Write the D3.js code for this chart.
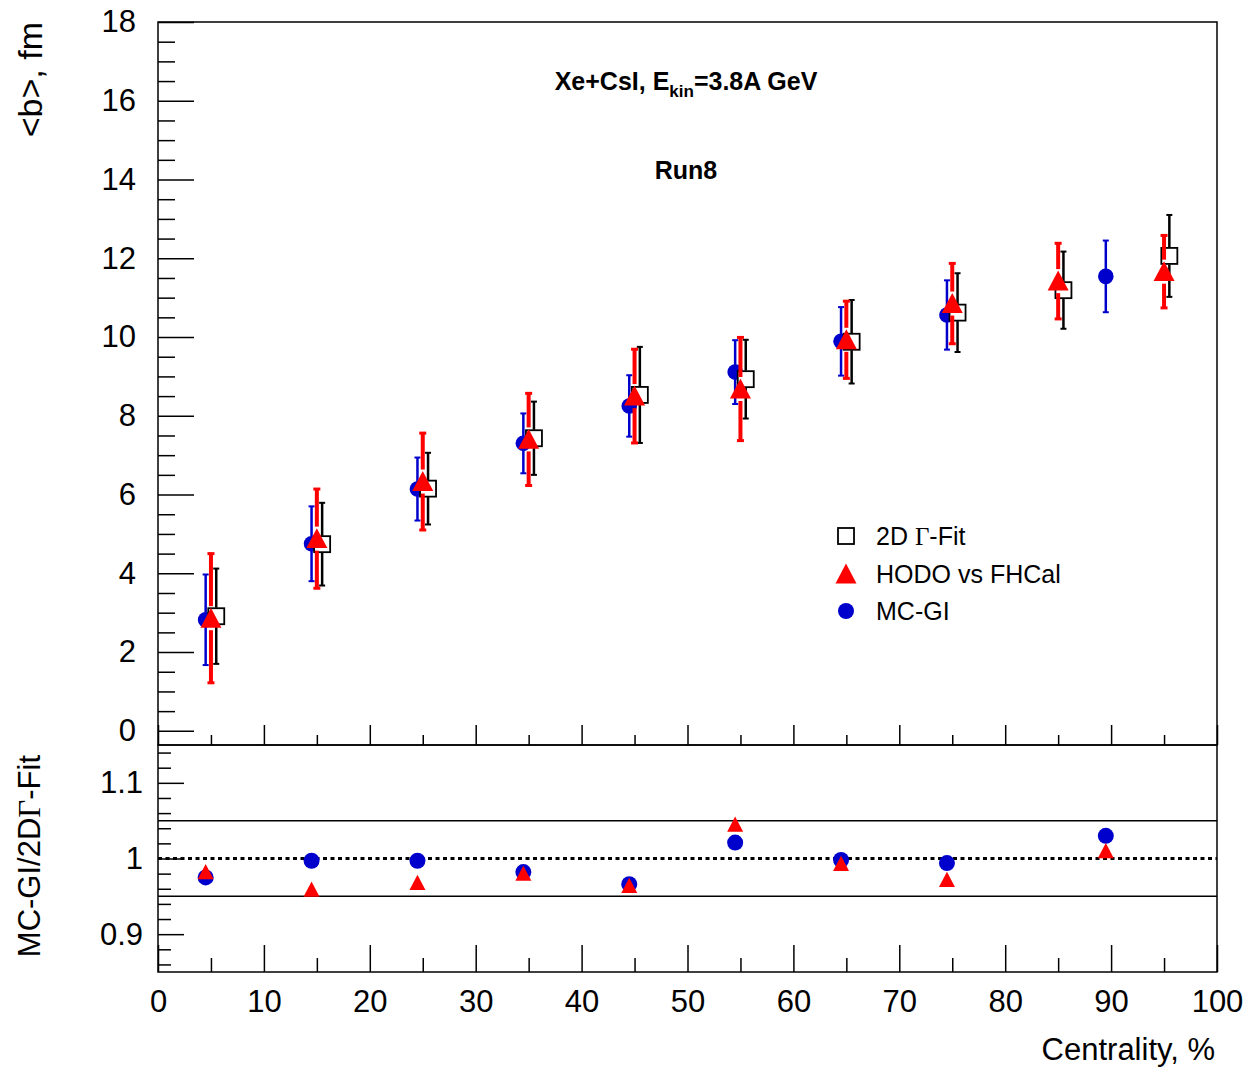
<!DOCTYPE html>
<html>
<head>
<meta charset="utf-8">
<script src="https://cdn.jsdelivr.net/npm/d3@7"></script>
<style>
  body { margin: 0; background: #fff; }
  svg text { font-family: "Liberation Sans", Arial, sans-serif; fill: #000; }
</style>
</head>
<body>
<svg id="chart" width="1247" height="1069"></svg>
<script>
'use strict';

/* ---------- data ---------- */
// MC-GI (blue circles)
const mcX   = [4.5, 14.5, 24.5, 34.5, 44.5, 54.5, 64.5, 74.5, 89.5];
const mcB   = [2.82, 4.75, 6.14, 7.30, 8.25, 9.11, 9.89, 10.56, 11.54];
const mcErr = [1.15, 0.95, 0.80, 0.76, 0.78, 0.81, 0.87, 0.88, 0.91];

// HODO vs FHCal (red triangles)
const hodoX   = [5, 15, 25, 35, 45, 55, 65, 75, 85, 95];
const hodoB   = [2.86, 4.88, 6.33, 7.40, 8.50, 8.68, 9.93, 10.85, 11.42, 11.66];
const hodoErr = [1.64, 1.26, 1.23, 1.17, 1.19, 1.31, 0.98, 1.02, 0.96, 0.92];

// 2D Gamma-fit (open squares)
const gamX   = [5.5, 15.5, 25.5, 35.5, 45.5, 55.5, 65.5, 75.5, 85.5, 95.5];
const gamB   = [2.91, 4.74, 6.15, 7.43, 8.53, 8.93, 9.88, 10.62, 11.19, 12.06];
const gamErr = [1.21, 1.05, 0.91, 0.93, 1.22, 1.00, 1.06, 1.00, 0.98, 1.04];

// ratio panel
const ratioX    = [4.5, 14.5, 24.5, 34.5, 44.5, 54.5, 64.5, 74.5, 89.5];
const ratioMC   = [0.975, 0.997, 0.997, 0.982, 0.966, 1.021, 0.998, 0.994, 1.030];
const ratioHODO = [0.982, 0.959, 0.968, 0.980, 0.964, 1.045, 0.993, 0.972, 1.010];

// ticks
const xTicks    = [0, 10, 20, 30, 40, 50, 60, 70, 80, 90, 100];
const yTopTicks = [0, 2, 4, 6, 8, 10, 12, 14, 16, 18];
const yBotTicks = [0.9, 1, 1.1];
const bandLines = [0.95, 1.05];

/* ---------- layout ---------- */
const X0 = 158, X1 = 1217, TOP = 22, MID = 745, BOT = 972;
const BLUE = '#0000cc', RED = '#ff0000';
const LBL = 31;

const svg = d3.select('#chart');
svg.append('rect').attr('width', 1247).attr('height', 1069).attr('fill', '#fff');

const x    = d3.scaleLinear().domain([0, 100]).range([X0, X1]);
const yTop = d3.scaleLinear().domain([-0.36, 18]).range([MID, TOP]);
const yBot = d3.scaleLinear().domain([0.85, 1.15]).range([BOT, MID]);

function styleAxis(g) {
  g.select('.domain').remove();
  g.selectAll('line').attr('stroke', '#000').attr('stroke-width', 1.5);
  g.selectAll('text').style('font-size', LBL + 'px').attr('fill', '#000');
}

/* ---------- axes ---------- */
// top panel y
svg.append('g').attr('transform', `translate(${X0},0)`)
  .call(d3.axisLeft(yTop).tickValues(yTopTicks).tickSize(-36).tickPadding(22).tickFormat(d3.format('d')))
  .call(styleAxis);
svg.append('g').attr('transform', `translate(${X0},0)`)
  .call(d3.axisLeft(yTop).tickValues(d3.range(0, 18.01, 0.5).filter(v => v % 2 !== 0)).tickSize(-17).tickFormat(''))
  .call(styleAxis);

// top panel x (no labels)
svg.append('g').attr('transform', `translate(0,${MID})`)
  .call(d3.axisBottom(x).tickValues(xTicks).tickSize(-20).tickFormat(''))
  .call(styleAxis);
svg.append('g').attr('transform', `translate(0,${MID})`)
  .call(d3.axisBottom(x).tickValues(d3.range(5, 100, 10)).tickSize(-10).tickFormat(''))
  .call(styleAxis);

// bottom panel y
svg.append('g').attr('transform', `translate(${X0},0)`)
  .call(d3.axisLeft(yBot).tickValues(yBotTicks).tickSize(-26).tickPadding(15).tickFormat(d => String(+d.toFixed(2))))
  .call(styleAxis);
svg.append('g').attr('transform', `translate(${X0},0)`)
  .call(d3.axisLeft(yBot).tickValues(d3.range(0.86, 1.141, 0.02).filter(v => Math.abs(v * 10 - Math.round(v * 10)) > 0.01)).tickSize(-13).tickFormat(''))
  .call(styleAxis);

// bottom panel x
svg.append('g').attr('transform', `translate(0,${BOT})`)
  .call(d3.axisBottom(x).tickValues(xTicks).tickSize(-27).tickPadding(18).tickFormat(d3.format('d')))
  .call(styleAxis);
svg.append('g').attr('transform', `translate(0,${BOT})`)
  .call(d3.axisBottom(x).tickValues(d3.range(5, 100, 10)).tickSize(-14).tickFormat(''))
  .call(styleAxis);

/* ---------- frames ---------- */
svg.append('rect').attr('x', X0).attr('y', TOP).attr('width', X1 - X0).attr('height', MID - TOP)
  .attr('fill', 'none').attr('stroke', '#000').attr('stroke-width', 1.5);
svg.append('rect').attr('x', X0).attr('y', MID).attr('width', X1 - X0).attr('height', BOT - MID)
  .attr('fill', 'none').attr('stroke', '#000').attr('stroke-width', 1.5);

// ratio reference lines
svg.selectAll('line.band').data(bandLines).enter().append('line')
  .attr('x1', X0).attr('x2', X1).attr('y1', d => yBot(d)).attr('y2', d => yBot(d))
  .attr('stroke', '#000').attr('stroke-width', 1.5);
svg.append('line')
  .attr('x1', X0).attr('x2', X1).attr('y1', yBot(1)).attr('y2', yBot(1))
  .attr('stroke', '#000').attr('stroke-width', 3).attr('stroke-dasharray', '4,3.5');

/* ---------- markers ---------- */
const triPath = (s) => `M0,${-s}L${s},${s * 0.9}L${-s},${s * 0.9}Z`;

function errBars(xs, ys, es, color, lw, cap, gap) {
  const g = svg.append('g');
  xs.forEach((xv, i) => {
    const px = x(xv), cy = yTop(ys[i]);
    const yt = yTop(ys[i] + es[i]), yb = yTop(ys[i] - es[i]);
    g.append('line').attr('x1', px).attr('x2', px).attr('y1', yt).attr('y2', cy - gap)
      .attr('stroke', color).attr('stroke-width', lw);
    g.append('line').attr('x1', px).attr('x2', px).attr('y1', cy + gap).attr('y2', yb)
      .attr('stroke', color).attr('stroke-width', lw);
    [yt, yb].forEach(yy => g.append('line')
      .attr('x1', px - cap / 2).attr('x2', px + cap / 2).attr('y1', yy).attr('y2', yy)
      .attr('stroke', color).attr('stroke-width', lw > 3 ? 3 : 2));
  });
}

// MC-GI
errBars(mcX, mcB, mcErr, BLUE, 2.5, 6, 7);
svg.append('g').selectAll('circle').data(mcX).enter().append('circle')
  .attr('cx', d => x(d)).attr('cy', (d, i) => yTop(mcB[i])).attr('r', 7.8).attr('fill', BLUE);

// 2D Gamma fit
errBars(gamX, gamB, gamErr, '#000', 2.5, 6, 8.5);
svg.append('g').selectAll('rect').data(gamX).enter().append('rect')
  .attr('x', d => x(d) - 8).attr('y', (d, i) => yTop(gamB[i]) - 8).attr('width', 16).attr('height', 16)
  .attr('fill', '#fff').attr('stroke', '#000').attr('stroke-width', 1.8);

// HODO
errBars(hodoX, hodoB, hodoErr, RED, 4, 7, 12);
svg.append('g').selectAll('path').data(hodoX).enter().append('path')
  .attr('transform', (d, i) => `translate(${x(d)},${yTop(hodoB[i])})`)
  .attr('d', triPath(10.5)).attr('fill', RED);

// ratio panel
svg.append('g').selectAll('circle').data(ratioX).enter().append('circle')
  .attr('cx', d => x(d)).attr('cy', (d, i) => yBot(ratioMC[i])).attr('r', 8).attr('fill', BLUE);
svg.append('g').selectAll('path').data(ratioX).enter().append('path')
  .attr('transform', (d, i) => `translate(${x(d)},${yBot(ratioHODO[i])})`)
  .attr('d', triPath(8)).attr('fill', RED);

/* ---------- legend ---------- */
const leg = svg.append('g');
const legX = 846, legTx = 876, legRows = [536, 574, 611];
leg.append('rect').attr('x', legX - 8).attr('y', legRows[0] - 8).attr('width', 16).attr('height', 16)
  .attr('fill', '#fff').attr('stroke', '#000').attr('stroke-width', 1.8);
leg.append('path').attr('transform', `translate(${legX},${legRows[1]})`).attr('d', triPath(10.5)).attr('fill', RED);
leg.append('circle').attr('cx', legX).attr('cy', legRows[2]).attr('r', 8).attr('fill', BLUE);

const LEGFS = '25px';
const t0 = leg.append('text').attr('x', legTx).attr('y', legRows[0]).attr('dy', '0.36em').style('font-size', LEGFS);
t0.append('tspan').text('2D ');
t0.append('tspan').style('font-family', '"Liberation Serif", "Times New Roman", serif').text('Γ');
t0.append('tspan').text('-Fit');
leg.append('text').attr('x', legTx).attr('y', legRows[1]).attr('dy', '0.36em').style('font-size', LEGFS).text('HODO vs FHCal');
leg.append('text').attr('x', legTx).attr('y', legRows[2]).attr('dy', '0.36em').style('font-size', LEGFS).text('MC-GI');

/* ---------- labels ---------- */
const title = svg.append('text').attr('x', 686).attr('y', 90).attr('text-anchor', 'middle')
  .style('font-size', '25px').style('font-weight', 'bold');
title.append('tspan').text('Xe+CsI, E');
title.append('tspan').attr('dy', 7).style('font-size', '17px').text('kin');
title.append('tspan').attr('dy', -7).text('=3.8A GeV');

svg.append('text').attr('x', 686).attr('y', 179).attr('text-anchor', 'middle')
  .style('font-size', '25px').style('font-weight', 'bold').text('Run8');

svg.append('text').attr('transform', `translate(42,${TOP}) rotate(-90)`).attr('text-anchor', 'end')
  .style('font-size', '34px').text('<b>, fm');

const yt2 = svg.append('text').attr('transform', `translate(40,755) rotate(-90)`).attr('text-anchor', 'end')
  .style('font-size', '31px');
yt2.append('tspan').text('MC-GI/2D');
yt2.append('tspan').style('font-family', '"Liberation Serif", "Times New Roman", serif').text('Γ');
yt2.append('tspan').text('-Fit');

svg.append('text').attr('x', X1 - 2).attr('y', 1060).attr('text-anchor', 'end')
  .style('font-size', '31px').text('Centrality, %');
</script>
</body>
</html>
